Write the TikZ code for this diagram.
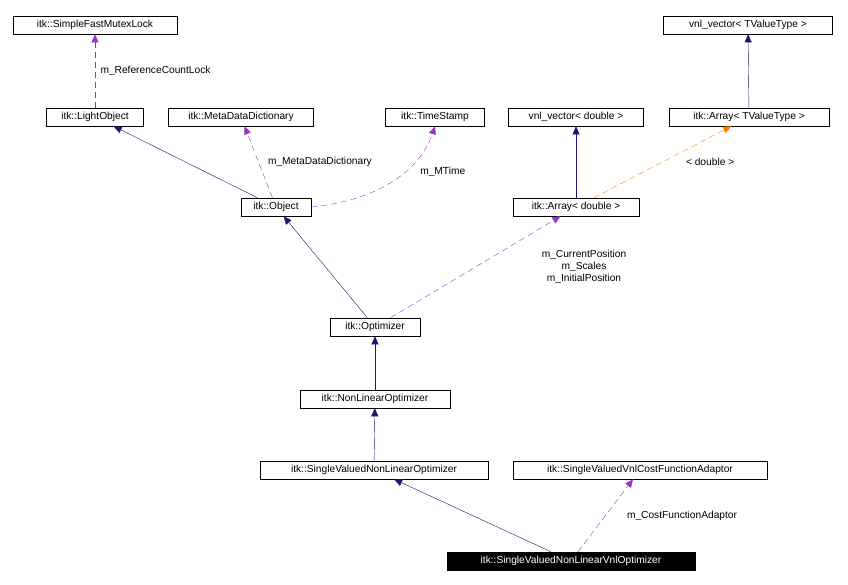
\documentclass[tikz,border=0pt]{standalone}
\usepackage{fontspec}
\setmainfont{Liberation Sans}
\usetikzlibrary{arrows.meta}
\begin{document}
\begin{tikzpicture}[x=1pt,y=-1pt,
  box/.style={draw,semithick,inner sep=0pt,minimum height=18pt,font=\fontsize{10.2}{11}\selectfont,anchor=center},
  inh/.style={draw={rgb,255:red,25;green,25;blue,112},-{Triangle[length=8pt,width=7pt]},thin},
  use/.style={draw={rgb,255:red,153;green,51;blue,204},dash pattern=on 6pt off 4pt,-{Triangle[length=8pt,width=7pt]},thin},
  tpl/.style={draw=orange,dash pattern=on 6pt off 4pt,-{Triangle[length=8pt,width=7pt]},thin},
  lab/.style={font=\fontsize{10.2}{12}\selectfont,align=center}]
\useasboundingbox (0,0) rectangle (848,585);
\node[box,minimum width=164pt] (mutex) at (95,25) {itk::SimpleFastMutexLock};
\node[box,minimum width=97pt] (light) at (95,117) {itk::LightObject};
\node[box,minimum width=145pt] (meta) at (241,117) {itk::MetaDataDictionary};
\node[box,minimum width=99pt] (time) at (435,117) {itk::TimeStamp};
\node[box,minimum width=135pt] (vnld) at (576,117) {vnl\_vector< double >};
\node[box,minimum width=169pt] (vnlt) at (748,25) {vnl\_vector< TValueType >};
\node[box,minimum width=160pt] (arrt) at (749,117) {itk::Array< TValueType >};
\node[box,minimum width=70pt] (obj) at (276,207) {itk::Object};
\node[box,minimum width=126pt] (arrd) at (576,207) {itk::Array< double >};
\node[box,minimum width=90pt] (opt) at (375,327) {itk::Optimizer};
\node[box,minimum width=150pt] (nlo) at (375,399) {itk::NonLinearOptimizer};
\node[box,minimum width=228pt] (svo) at (374,470) {itk::SingleValuedNonLinearOptimizer};
\node[box,minimum width=254pt] (adp) at (640,470) {itk::SingleValuedVnlCostFunctionAdaptor};
\node[box,minimum width=248pt,fill=black,text=white] (main) at (571,561) {itk::SingleValuedNonLinearVnlOptimizer};
\draw[use] (light) -- (mutex) node[lab,midway,right,xshift=2pt] {m\_ReferenceCountLock};
\draw[inh] (obj) -- (light);
\draw[use] (obj) -- (meta) node[lab,pos=0.5,right,xshift=6pt] {m\_MetaDataDictionary};
\draw[use] (obj.east) .. controls (380,200) and (420,170) .. (time.south) node[lab,pos=0.6,right,xshift=12pt] {m\_MTime};
\draw[inh] (arrd) -- (vnld);
\draw[tpl] (arrd) -- (arrt) node[lab,pos=0.5,right,xshift=20pt] {< double >};
\draw[inh] (arrt) -- (vnlt);
\draw[inh] (opt) -- (obj);
\draw[use] (opt) -- (arrd);
\node[lab] (ul) at (584,267) {m\_CurrentPosition\\m\_Scales\\m\_InitialPosition};
\draw[inh] (nlo) -- (opt);
\draw[inh] (svo) -- (nlo);
\draw[inh] (main) -- (svo);
\draw[use] (main) -- (adp) node[lab,pos=0.5,right,xshift=18pt] {m\_CostFunctionAdaptor};
\end{tikzpicture}
\end{document}
